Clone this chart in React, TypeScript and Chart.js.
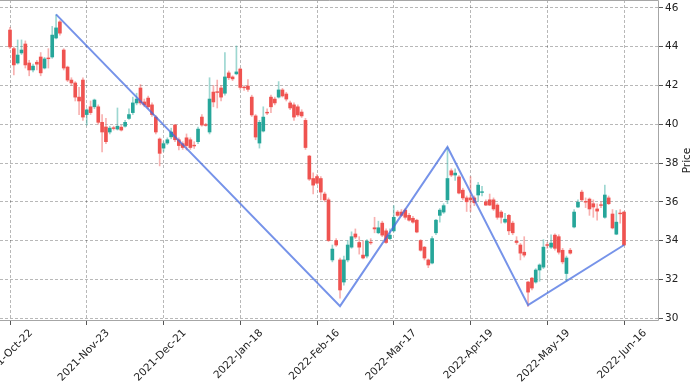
import React, { useEffect, useRef } from 'react';
import { Chart, registerables } from 'chart.js';

Chart.register(...registerables);

// x tick positions (trading-day index) and their labels
const tickIndex = [0, 20, 40, 60, 80, 100, 120, 140, 160];
const tickLabels = [
  '2021-Oct-22', '2021-Nov-23', '2021-Dec-21', '2022-Jan-18', '2022-Feb-16',
  '2022-Mar-17', '2022-Apr-19', '2022-May-19', '2022-Jun-16',
];
const yTicks = [30, 32, 34, 36, 38, 40, 42, 44, 46];

const opens = [
  44.86, 43.9, 43.16, 43.68, 44.14, 43.16, 42.8, 43.2, 43.47, 42.9,
  43.42, 43.47, 44.45, 45.28, 43.83, 42.95, 42.28, 42.13, 41.4, 42.28,
  40.5, 40.9, 40.9, 40.9, 40.1, 39.86, 39.6, 39.82, 39.75, 39.85,
  39.9, 40.3, 40.6, 41.1, 41.87, 41.15, 41.35, 41.0, 40.37, 39.24,
  38.77, 39.03, 39.35, 39.96, 39.2, 39.0, 39.3, 39.2, 38.92, 39.1,
  40.37, 39.98, 39.6, 41.66, 41.68, 41.87, 41.6, 42.65, 42.44, 42.6,
  42.85, 41.92, 41.97, 41.4, 40.43, 39.03, 39.65, 40.62, 41.4, 41.3,
  41.4, 41.77, 41.56, 41.1, 41.0, 40.9, 40.63, 40.2, 38.36, 37.2,
  37.3, 37.2, 36.4, 36.1, 33.0, 34.0, 33.0, 31.86, 33.0, 33.66,
  34.34, 33.9, 33.25, 33.2, 33.92, 34.66, 34.4, 34.9, 34.5, 34.1,
  34.5, 35.47, 35.47, 35.57, 35.3, 35.15, 35.05, 34.0, 33.66, 33.0,
  32.84, 34.4, 35.3, 35.47, 36.1, 37.6, 37.38, 37.28, 36.6, 36.2,
  36.2, 36.2, 36.35, 36.48, 36.0, 36.1, 36.1, 35.83, 35.47, 34.95,
  35.3, 34.9, 33.97, 33.77, 33.4, 31.86, 32.06, 31.86, 32.48, 32.63,
  33.79, 33.66, 34.28, 34.2, 33.5, 32.3, 33.5, 34.7, 35.73, 36.5,
  36.02, 36.14, 35.9, 35.63, 35.85, 35.2, 36.2, 35.37, 34.33, 35.42,
  35.47,
];
const highs = [
  45.0, 44.0, 44.35, 44.35, 44.3, 43.3, 43.1, 43.3, 43.7, 43.45,
  43.9, 45.05, 45.64, 45.35, 43.9, 43.0, 42.4, 42.2, 41.9, 42.4,
  40.8, 41.2, 41.3, 41.0, 40.5, 40.3, 39.9, 39.9, 40.84, 39.95,
  40.2, 40.8, 41.4, 41.6, 42.05, 41.3, 41.45, 41.1, 40.45, 39.3,
  39.1, 39.3, 39.8, 40.0, 39.3, 39.1, 39.5, 39.3, 39.1, 39.85,
  40.5, 40.05, 42.4, 42.0, 42.28, 42.0, 43.7, 42.75, 42.5, 44.04,
  42.9, 42.0, 42.3, 41.5, 40.5, 40.2, 40.9, 40.8, 41.5, 41.4,
  42.2, 41.85, 41.65, 41.2, 41.1, 41.0, 40.75, 40.3, 38.4, 37.5,
  37.4, 37.3, 36.5, 36.2, 33.77, 34.1, 33.1, 33.2, 34.0, 34.45,
  34.6, 34.2, 34.0, 34.05, 34.1, 35.2, 35.0, 35.0, 34.6, 34.6,
  35.8, 35.55, 35.6, 35.65, 35.4, 35.25, 35.1, 34.05, 33.7, 33.05,
  34.2, 35.1, 35.65, 35.9, 38.8, 37.7, 37.7, 37.35, 36.7, 36.3,
  37.3, 36.3, 37.0, 36.8, 36.1, 36.4, 36.2, 35.9, 35.55, 35.4,
  35.35, 35.0, 34.2, 33.85, 34.2, 31.9, 32.1, 32.55, 32.8, 34.05,
  33.9, 34.3, 34.35, 34.3, 33.6, 33.2, 33.6, 35.6, 36.1, 36.6,
  36.2, 36.2, 36.1, 35.9, 36.0, 36.86, 36.3, 35.6, 35.55, 35.6,
  35.5,
];
const lows = [
  43.9, 42.54, 43.1, 43.6, 42.9, 42.5, 42.7, 42.8, 42.5, 42.85,
  42.9, 43.4, 44.4, 44.6, 42.8, 42.2, 42.0, 41.2, 40.5, 40.2,
  39.96, 40.5, 40.8, 40.0, 38.57, 39.0, 39.5, 39.7, 39.7, 39.65,
  39.85, 40.25, 40.5, 41.0, 41.0, 40.9, 40.8, 40.4, 39.5, 37.85,
  38.6, 38.95, 39.25, 39.1, 38.67, 38.7, 38.67, 38.7, 38.75, 39.0,
  39.9, 39.9, 39.5, 40.9, 40.84, 41.2, 41.5, 42.3, 42.25, 42.55,
  41.8, 41.75, 41.7, 40.4, 39.2, 38.77, 39.6, 40.5, 40.6, 41.0,
  41.35, 41.4, 41.2, 40.75, 40.2, 40.4, 40.35, 38.7, 37.1, 36.4,
  36.9, 36.1, 36.0, 33.95, 32.9, 33.7, 31.03, 31.7, 32.9, 33.6,
  34.1, 33.3, 33.05, 33.1, 33.8, 34.4, 34.35, 34.2, 33.85, 34.05,
  34.45, 35.25, 35.25, 35.1, 35.0, 34.9, 34.4, 33.45, 33.0, 32.6,
  32.8, 34.3, 34.95, 35.4, 35.9, 37.3, 37.1, 36.4, 36.1, 35.5,
  35.5, 35.8, 36.0, 36.3, 35.8, 35.8, 35.55, 35.1, 34.9, 34.9,
  34.3, 34.3, 33.8, 33.0, 33.15, 30.6, 31.45, 31.8, 31.9, 32.55,
  33.6, 33.6, 33.5, 33.3, 32.8, 31.9, 33.3, 34.65, 35.7, 36.05,
  35.7, 35.3, 35.2, 35.05, 35.7, 35.15, 35.85, 34.6, 34.3, 34.9,
  33.75,
];
const closes = [
  43.99, 43.06, 43.57, 43.83, 43.06, 42.8, 43.0, 43.1, 42.65, 43.37,
  43.38, 44.6, 44.97, 44.7, 42.9, 42.28, 42.13, 41.4, 41.2, 40.37,
  40.74, 40.6, 41.25, 40.1, 39.6, 39.1, 39.8, 39.78, 39.9, 39.7,
  40.1, 40.5, 41.1, 41.3, 41.1, 41.0, 40.9, 40.5, 39.6, 38.5,
  39.0, 39.2, 39.6, 39.2, 38.9, 38.8, 38.9, 38.8, 38.88, 39.75,
  39.96, 39.94, 41.3, 41.15, 41.64, 41.4, 42.44, 42.4, 42.34, 42.7,
  41.9, 41.88, 41.8, 40.48, 39.34, 40.1, 40.37, 40.58, 40.9, 41.1,
  41.77, 41.46, 41.3, 40.84, 40.37, 40.48, 40.43, 38.8, 37.17, 36.86,
  36.96, 36.5, 36.1, 34.0, 33.56, 33.77, 31.45, 33.0, 33.77, 34.2,
  34.18, 33.66, 33.1, 33.97, 33.88, 34.6, 34.66, 34.28, 33.9, 34.28,
  35.2, 35.3, 35.3, 35.2, 35.05, 34.95, 34.44, 33.5, 33.1, 32.74,
  34.1, 35.05, 35.57, 35.8, 37.2, 37.38, 37.48, 36.45, 36.2, 36.0,
  36.1, 35.95, 36.86, 36.52, 35.83, 35.83, 35.63, 35.2, 35.2, 35.1,
  34.5, 34.4, 33.9, 33.35, 33.25, 31.34, 31.55, 32.48, 32.74, 33.66,
  33.75, 33.87, 33.6, 33.4, 32.9, 33.1, 33.35, 35.47, 35.98, 36.1,
  35.98, 35.63, 35.73, 35.52, 35.81, 36.35, 35.9, 34.65, 34.95, 35.38,
  33.77,
];

// zigzag pivots
const zigzagIndex = [12, 86, 114, 135, 160];
const zigzagPrice = [45.67, 30.62, 38.83, 30.67, 33.77];

const UP = '#26a69a';
const DOWN = '#ef5350';
const UP_WICK = 'rgba(38,166,154,0.45)';
const DOWN_WICK = 'rgba(239,83,80,0.45)';
const FONT = 'DejaVu Sans';

const decorPlugin = {
  id: 'decor',
  afterDraw(chart: any) {
    const { ctx, chartArea } = chart;
    const { left, right, top, bottom } = chartArea;
    ctx.save();
    ctx.setLineDash([]);
    ctx.strokeStyle = '#a6a6a6';
    ctx.lineWidth = 1;
    ctx.beginPath();
    ctx.moveTo(left, top + 0.5);
    ctx.lineTo(right - 0.5, top + 0.5);
    ctx.lineTo(right - 0.5, bottom - 0.5);
    ctx.lineTo(left, bottom - 0.5);
    ctx.stroke();
    ctx.translate(687, (top + bottom) / 2);
    ctx.rotate(-Math.PI / 2);
    ctx.fillStyle = '#222';
    ctx.font = `10.5px "${FONT}"`;
    ctx.textAlign = 'center';
    ctx.textBaseline = 'middle';
    ctx.fillText('Price', 0, 0);
    ctx.restore();
  },
};

export default function App() {
  const ref = useRef<HTMLCanvasElement | null>(null);

  useEffect(() => {
    document.body.style.margin = '0';
    const canvas = ref.current;
    if (!canvas) return;
    const up = closes.map((c, i) => c >= opens[i]);
    const bodies = opens.map((o, i) => ({ x: i, y: [o, closes[i]] }));
    const wicks = lows.map((l, i) => ({ x: i, y: [l, highs[i]] }));
    const zig = zigzagIndex.map((x, i) => ({ x, y: zigzagPrice[i] }));

    const chart = new Chart(canvas, {
      type: 'bar',
      data: {
        datasets: [
          {
            type: 'line',
            data: zig as any,
            borderColor: 'rgba(65,105,225,0.72)',
            borderWidth: 2,
            pointRadius: 0,
            fill: false,
            tension: 0,
            order: 0,
          } as any,
          {
            type: 'bar',
            data: bodies as any,
            backgroundColor: up.map((u) => (u ? UP : DOWN)),
            borderWidth: 0,
            barThickness: 3,
            grouped: false,
            order: 1,
          } as any,
          {
            type: 'bar',
            data: wicks as any,
            backgroundColor: up.map((u) => (u ? UP_WICK : DOWN_WICK)),
            borderWidth: 0,
            barThickness: 1,
            grouped: false,
            order: 2,
          } as any,
        ],
      },
      options: {
        animation: false,
        responsive: false,
        devicePixelRatio: 1,
        layout: { padding: 0 },
        plugins: { legend: { display: false }, tooltip: { enabled: false } },
        scales: {
          x: {
            type: 'linear',
            offset: false,
            min: -2.606,
            max: 169.12,
            afterBuildTicks: (scale: any) => {
              scale.ticks = tickIndex.map((v) => ({ value: v }));
            },
            afterFit: (scale: any) => {
              scale.height = 66;
              scale.paddingLeft = 0;
              scale.paddingRight = 0;
            },
            ticks: {
              autoSkip: false,
              minRotation: 45,
              maxRotation: 45,
              labelOffset: 21,
              padding: 2,
              color: '#222',
              font: { family: FONT, size: 10.5 },
              callback: (v: any) => {
                const k = tickIndex.indexOf(Number(v));
                return k >= 0 ? tickLabels[k] : '';
              },
            },
            grid: {
              offset: false,
              color: 'rgba(0,0,0,0.28)',
              lineWidth: 1,
              drawTicks: true,
              tickLength: 4,
              tickColor: '#555',
              tickBorderDash: [],
            },
            border: { display: false, dash: [3, 2] },
          },
          y: {
            type: 'linear',
            position: 'right',
            min: 29.85,
            max: 46.41,
            afterBuildTicks: (scale: any) => {
              scale.ticks = yTicks.map((v) => ({ value: v }));
            },
            afterFit: (scale: any) => {
              scale.width = 41;
              scale.paddingTop = 0;
              scale.paddingBottom = 0;
            },
            ticks: {
              padding: 2,
              color: '#222',
              font: { family: FONT, size: 10.5 },
              callback: (v: any) => String(v),
            },
            grid: {
              color: 'rgba(0,0,0,0.28)',
              lineWidth: 1,
              drawTicks: true,
              tickLength: 4,
              tickColor: '#555',
              tickBorderDash: [],
            },
            border: { display: false, dash: [3, 2] },
          },
        },
      },
      plugins: [decorPlugin],
    } as any);
    return () => chart.destroy();
  }, []);

  return (
    <div style={{ position: 'absolute', left: 0, top: 0, width: 700, height: 387 }}>
      <canvas ref={ref} width={700} height={387} style={{ width: 700, height: 387 }} />
    </div>
  );
}
